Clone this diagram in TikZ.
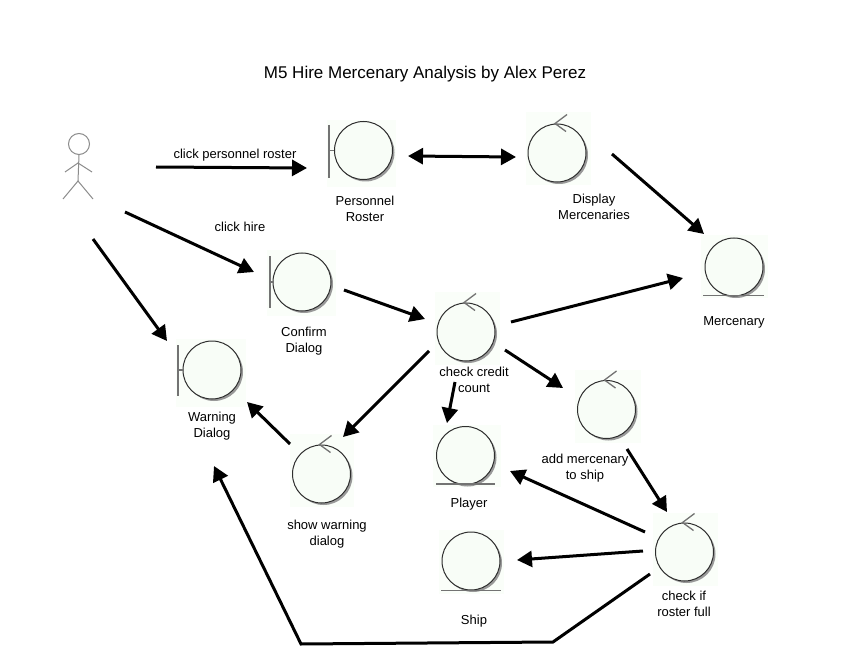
\documentclass[tikz,border=0pt]{standalone}
\usepackage{fontspec}
\setmainfont{Liberation Sans}
\usetikzlibrary{arrows.meta,calc}
\definecolor{tint}{HTML}{FAFEF9}
\definecolor{inner}{HTML}{F8FDF7}
\definecolor{ringc}{HTML}{2E2E2E}
\tikzset{
 lab/.style={font=\fontsize{13}{16.5}\selectfont,align=center,inner sep=0pt,text=black},
 conn/.style={line width=3pt,-{Triangle[length=15pt,width=16pt]}},
 ball/.style={circle,minimum size=58pt,inner sep=0pt,draw=ringc,line width=1pt,fill=inner,
   preaction={draw=none,fill=black!40,transform canvas={shift={(2pt,-2pt)}}}},
 glyph/.style={line width=1.3pt,draw=black!55},
 stick/.style={line width=1pt,draw=black!45},
}
\newcommand{\patch}[4]{\fill[tint] (#1,#2) rectangle (#3,#4);}
\begin{document}
\begin{tikzpicture}[x=1pt,y=-1pt]
\useasboundingbox[fill=white] (0,0) rectangle (855,650);
% tinted backgrounds
\patch{327}{120}{396}{187}
\patch{526}{112}{591}{185}
\patch{267}{250}{336}{316}
\patch{435}{292}{500}{365}
\patch{701}{235}{768}{298}
\patch{575}{370}{641}{443}
\patch{176}{339}{246}{407}
\patch{290}{434}{354}{507}
\patch{433}{425}{501}{487}
\patch{439}{530}{504}{594}
\patch{653}{513}{718}{586}
% title
\node[lab,font=\fontsize{17}{20}\selectfont] (title) at (425,74.5) {M5 Hire Mercenary Analysis by Alex Perez};
% actor
\node[circle,stick,minimum size=21pt,inner sep=0pt] (actor) at (79,144) {};
\coordinate (hip) at (78,181);
\draw[stick] (actor.south) -- (hip);
\draw[stick] (65,172) -- (78,163) -- (92,172);
\draw[stick] (63,199) -- (hip) -- (93,199);
% boundary objects
\node[ball] (roster) at (363.5,150.5) {};
\draw[glyph] (329,125) -- (329,178) (329,150.5) -- (roster.west);
\node[ball] (confirm) at (302,282) {};
\draw[glyph] (270,256) -- (270,308) (270,282) -- (confirm.west);
\node[ball] (warning) at (212,370) {};
\draw[glyph] (178,345) -- (178,396) (178,370) -- (warning.west);
% control objects
\node[ball] (display) at (557,153) {};
\node[ball] (credit) at (466,332) {};
\node[ball] (addm) at (606.5,409.5) {};
\node[ball] (showw) at (321.5,474) {};
\node[ball] (full) at (684.5,552) {};
\foreach \n in {display,credit,addm,showw,full}{
  \draw[glyph] ($(\n.north)+(10,-9)$) -- ($(\n.north)+(-2,0)$) -- ($(\n.north)+(9,8)$);
}
% entity objects
\node[ball] (merc) at (734,267) {};
\draw[glyph] (703,295.5) -- (764,295.5);
\node[ball] (player) at (465.5,455.5) {};
\draw[glyph] (436,484) -- (495,484);
\node[ball] (ship) at (471,561) {};
\draw[glyph] (441,590.5) -- (501,590.5);
% labels
\node[lab] (l1) at (235,155) {click personnel roster};
\node[lab] (l2) at (240,227) {click hire};
\node[lab] (l3) at (365,209) {Personnel\\Roster};
\node[lab] (l4) at (594,207) {Display\\Mercenaries};
\node[lab] (l5) at (304,341) {Confirm\\Dialog};
\node[lab] (l6) at (734,322) {Mercenary};
\node[lab] (l7) at (474,380) {check credit\\count};
\node[lab] (l8) at (585,468) {add mercenary\\to ship};
\node[lab] (l9) at (212,426) {Warning\\Dialog};
\node[lab] (l10) at (327,534) {show warning\\dialog};
\node[lab] (l11) at (469,504) {Player};
\node[lab] (l12) at (474,621) {Ship};
\node[lab] (l13) at (684,604) {check if\\roster full};
% connector ends
\coordinate (a1) at (156,167);   \coordinate (a2) at (307,168);
\coordinate (b1) at (408,156);   \coordinate (b2) at (516,157);
\coordinate (c1) at (612,154);   \coordinate (c2) at (704,234);
\coordinate (d1) at (125,212);   \coordinate (d2) at (254,272);
\coordinate (e1) at (93,239);    \coordinate (e2) at (167,341);
\coordinate (f1) at (344,290);   \coordinate (f2) at (425,319);
\coordinate (g1) at (511,322);   \coordinate (g2) at (683,278);
\coordinate (h1) at (429,351);   \coordinate (h2) at (343,437);
\coordinate (i1) at (455,382);   \coordinate (i2) at (447,423);
\coordinate (j1) at (505,350);   \coordinate (j2) at (563,388);
\coordinate (k1) at (627,449);   \coordinate (k2) at (667,512);
\coordinate (m1) at (645,532);   \coordinate (m2) at (510,471);
\coordinate (n1) at (643,551);   \coordinate (n2) at (517,560);
\coordinate (o1) at (290,444);   \coordinate (o2) at (247,402);
\coordinate (p1) at (650,574);   \coordinate (p2) at (553,642);
\coordinate (p3) at (301,644);   \coordinate (p4) at (214,466);
\draw[conn] (a1) -- (a2);
\draw[line width=3pt,{Triangle[length=15pt,width=16pt]}-{Triangle[length=15pt,width=16pt]}] (b1) -- (b2);
\draw[conn] (c1) -- (c2);
\draw[conn] (d1) -- (d2);
\draw[conn] (e1) -- (e2);
\draw[conn] (f1) -- (f2);
\draw[conn] (g1) -- (g2);
\draw[conn] (h1) -- (h2);
\draw[conn] (i1) -- (i2);
\draw[conn] (j1) -- (j2);
\draw[conn] (k1) -- (k2);
\draw[conn] (m1) -- (m2);
\draw[conn] (n1) -- (n2);
\draw[conn] (o1) -- (o2);
\draw[conn] (p1) -- (p2) -- (p3) -- (p4);
\end{tikzpicture}
\end{document}
